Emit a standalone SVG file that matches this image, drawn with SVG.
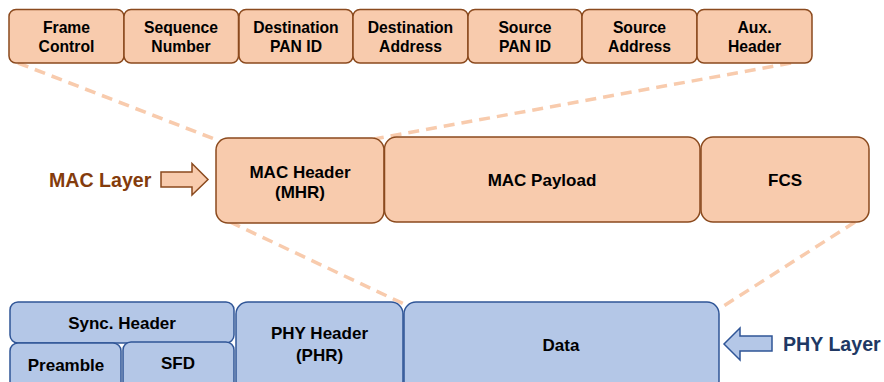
<svg xmlns="http://www.w3.org/2000/svg" width="884" height="382" viewBox="0 0 884 382">
<style>
.mac{fill:#f8cbad;stroke:#8b4a1e;stroke-width:1.5}
.phy{fill:#b4c7e7;stroke:#2f5597;stroke-width:1.5}
.t{font-family:"Liberation Sans",Arial,sans-serif;font-weight:bold;font-size:15.7px;fill:#000;text-anchor:middle}
.tm{font-size:17px}
.lay{font-family:"Liberation Sans",Arial,sans-serif;font-weight:bold;font-size:19.6px}
.dash{stroke:#f8cbad;stroke-width:3.5;stroke-dasharray:11,7;fill:none}
</style>
<rect width="884" height="382" fill="#fff"/>
<g id="connectors">
<line class="dash" x1="18" y1="63" x2="222" y2="142"/>
<line class="dash" x1="791" y1="63" x2="374" y2="139"/>
<line class="dash" x1="230" y1="222" x2="404" y2="304"/>
<line class="dash" x1="855" y1="222" x2="719" y2="309"/>
</g>
<g id="frame-control"><rect class="mac" x="9" y="9.5" width="115" height="53.5" rx="7"/><text class="t" x="66.5" y="33">Frame</text><text class="t" x="66.5" y="52">Control</text></g>
<g id="sequence-number"><rect class="mac" x="124" y="9.5" width="114.5" height="53.5" rx="7"/><text class="t" x="181" y="33">Sequence</text><text class="t" x="181" y="52">Number</text></g>
<g id="dest-pan"><rect class="mac" x="239" y="9.5" width="114" height="53.5" rx="7"/><text class="t" x="296" y="33">Destination</text><text class="t" x="296" y="52">PAN ID</text></g>
<g id="dest-addr"><rect class="mac" x="353" y="9.5" width="115" height="53.5" rx="7"/><text class="t" x="410.5" y="33">Destination</text><text class="t" x="410.5" y="52">Address</text></g>
<g id="src-pan"><rect class="mac" x="468" y="9.5" width="114" height="53.5" rx="7"/><text class="t" x="525" y="33">Source</text><text class="t" x="525" y="52">PAN ID</text></g>
<g id="src-addr"><rect class="mac" x="582" y="9.5" width="115" height="53.5" rx="7"/><text class="t" x="639.5" y="33">Source</text><text class="t" x="639.5" y="52">Address</text></g>
<g id="aux-header"><rect class="mac" x="697" y="9.5" width="115" height="53.5" rx="7"/><text class="t" x="754.5" y="33">Aux.</text><text class="t" x="754.5" y="52">Header</text></g>
<g id="mac-header"><rect class="mac" x="216" y="138" width="168" height="85" rx="12"/><text class="t tm" x="300" y="178">MAC Header</text><text class="t tm" x="300" y="198">(MHR)</text></g>
<g id="mac-payload"><rect class="mac" x="384.5" y="137" width="315.5" height="85" rx="12"/><text class="t tm" x="542" y="186">MAC Payload</text></g>
<g id="fcs"><rect class="mac" x="701" y="137" width="168" height="85" rx="12"/><text class="t tm" x="785" y="186">FCS</text></g>
<g id="mac-layer"><text class="lay" x="49" y="187" fill="#843c0c">MAC Layer</text><path class="mac" d="M161 172 H192 V163.5 L208 179.5 L192 195 V187 H161 Z"/></g>
<g id="sync-header"><rect class="phy" x="10" y="302" width="224" height="41" rx="8"/><text class="t tm" x="122" y="329">Sync. Header</text></g>
<g id="preamble"><rect class="phy" x="10" y="343" width="111" height="50" rx="8"/><text class="t tm" x="66" y="371">Preamble</text></g>
<g id="sfd"><rect class="phy" x="123" y="342" width="111" height="51" rx="8"/><text class="t tm" x="178" y="369">SFD</text></g>
<g id="phy-header"><rect class="phy" x="236" y="302" width="167" height="91" rx="12"/><text class="t tm" x="319.5" y="339">PHY Header</text><text class="t tm" x="319.5" y="361">(PHR)</text></g>
<g id="data"><rect class="phy" x="404" y="302" width="315" height="91" rx="12"/><text class="t tm" x="561" y="351">Data</text></g>
<g id="phy-layer"><path class="phy" d="M772 336 H740 V328 L724 344 L740 360 V351 H772 Z"/><text class="lay" x="783" y="350.5" fill="#203864">PHY Layer</text></g>
</svg>
